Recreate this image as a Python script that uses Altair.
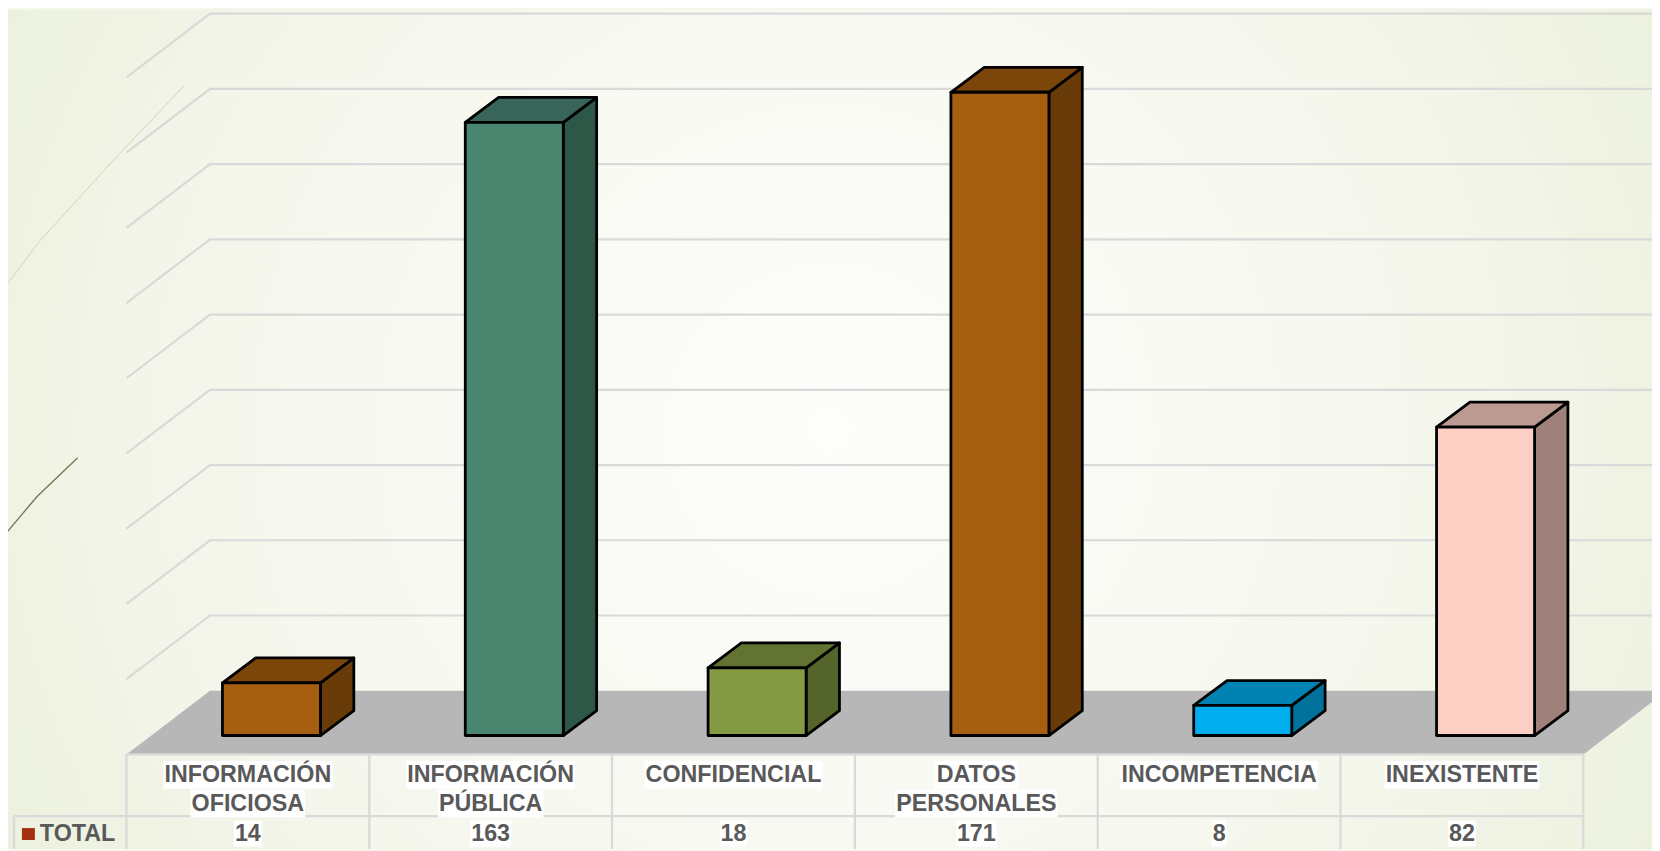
import altair as alt
import pandas as pd

CATEGORIES_LINE1 = ["INFORMACIÓN", "INFORMACIÓN", "CONFIDENCIAL", "DATOS", "INCOMPETENCIA", "INEXISTENTE"]
CATEGORIES_LINE2 = ["OFICIOSA", "PÚBLICA", "", "PERSONALES", "", ""]
VALUES = [14, 163, 18, 171, 8, 82]
FRONT = ["#a65e10", "#4a8570", "#859b43", "#a65e10", "#00aeef", "#fbcfc4"]
TOP = ["#7c4509", "#38645a", "#637432", "#7c4509", "#0083b3", "#bc9a92"]
SIDE = ["#693b08", "#2d5747", "#55642b", "#693b08", "#00729b", "#a0807a"]
TICKS = list(range(0, 181, 20))

W, H = 1652, 843
OX, OY = 8, 8
X0, SLOT = 127.0, 244.0       # page px of slot 0, px per slot
Y0, UNIT = 756.0, 3.78        # page px of value 0, px per unit
DX, DY = 84.0, 64.0           # full depth offset in px


def U(px):
    return (px - X0) / SLOT


def V(py):
    return (Y0 - py) / UNIT


x_scale = alt.Scale(domain=[U(OX), U(OX + W)], range=[0, W], nice=False, zero=False)
y_scale = alt.Scale(domain=[V(OY + H), V(OY)], range=[H, 0], nice=False, zero=False)


def proj(slot, value, depth):
    return slot + depth * DX / SLOT, value + depth * DY / UNIT


X = alt.X("x:Q", scale=x_scale, axis=None)
Xh = alt.X("x:Q", scale=x_scale, axis=None)
Y_PLAIN = alt.Y("y:Q", scale=y_scale, axis=None)
Y_AXIS = alt.Y("y:Q", scale=y_scale, title=None, axis=alt.Axis(
    values=TICKS, domain=False, ticks=False, grid=False, labelPadding=-104, labelFontSize=24,
    labelFont="Lato", labelFontWeight=300, labelColor="#595959", zindex=1, labelOverlap=False))

# background
bg = alt.Chart(pd.DataFrame({"x": [U(OX)], "x2": [U(OX + W)], "y": [V(OY + H)], "y2": [V(OY)]})).mark_rect(
    color=alt.Gradient(gradient="radial", x1=0.5, y1=0.5, r1=0.0, x2=0.5, y2=0.5, r2=0.72, stops=[
        alt.GradientStop(offset=0, color="#fdfdfb"),
        alt.GradientStop(offset=0.45, color="#f6f8ef"),
        alt.GradientStop(offset=1, color="#e6ecd3"),
    ])
).encode(x=X, x2="x2:Q", y=Y_AXIS, y2="y2:Q")

# decorative curves of the slide
c1x = [0, 40, 113, 185]
c1y = [293, 240, 160, 84]
c2x = [0, 37, 78]
c2y = [541, 497, 458]
curve = pd.concat([
    pd.DataFrame({"x": [U(p) for p in c1x], "y": [V(p) for p in c1y], "id": "a", "o": range(4)}),
    pd.DataFrame({"x": [U(p) for p in c2x], "y": [V(p) for p in c2y], "id": "b", "o": range(3)}),
])
curves = alt.Chart(curve).mark_line(clip=True).encode(
    x=X, y=Y_PLAIN, detail="id:N", order="o:Q",
    color=alt.Color("id:N", scale=alt.Scale(domain=["a", "b"], range=["#cfd3bb", "#7d7659"]), legend=None),
    strokeWidth=alt.StrokeWidth("id:N", scale=alt.Scale(domain=["a", "b"], range=[1, 1.4]), legend=None))

# gridlines
grid_rows = []
for t in TICKS:
    if t == 0:
        continue
    for i, (s, d) in enumerate([(0, 0), (0, 1), (7, 1)]):
        px, py = proj(s, t, d)
        grid_rows.append({"x": px, "y": py, "t": t, "o": i})
grid = alt.Chart(pd.DataFrame(grid_rows)).mark_line(color="#d9d9d9", strokeWidth=2.2, clip=True).encode(
    x=X, y=Y_PLAIN, detail="t:Q", order="o:Q")

# floor
fy = [proj(0, 0, d)[1] for d in (0, 1)]
floor_df = pd.DataFrame({"y": fy, "x": [proj(0, 0, d)[0] for d in (0, 1)], "x2": [proj(6, 0, d)[0] for d in (0, 1)]})
floor = alt.Chart(floor_df).mark_area(orient="horizontal", color="#b7b7b7", clip=True).encode(
    y=Y_PLAIN, x=alt.X("x:Q", scale=x_scale, axis=None), x2="x2:Q")

# table
hl = pd.DataFrame({"x": [0, U(14)], "x2": [6, 6], "y": [0, V(818)]})
table_h = alt.Chart(hl).mark_rule(color="#d9d9d9", strokeWidth=2.2).encode(x=X, x2="x2:Q", y=Y_PLAIN)
vl = pd.DataFrame({"x": list(range(7)), "y": [0] * 7, "y2": [V(OY + H)] * 7})
vl2 = pd.DataFrame({"x": [U(14)], "y": [V(818)], "y2": [V(OY + H)]})
table_v = alt.Chart(pd.concat([vl, vl2])).mark_rule(color="#d9d9d9", strokeWidth=2.2).encode(x=X, y=Y_PLAIN, y2="y2:Q")

# bars
BAR_D0 = 19.0 / DY
BAR_D1 = BAR_D0 + 25.0 / DY
BAR_L = (223.5 - X0) / SLOT
BAR_W = 98.5 / SLOT
side_rows, top_rows, front_rows = [], [], []
for i, v in enumerate(VALUES):
    left = i + BAR_L
    right = left + BAR_W
    fx0, fb = proj(left, 0, BAR_D0)
    fx1, ft = proj(right, v, BAR_D0)
    fx0 -= BAR_D0 * DX / SLOT  # front-left px was measured directly
    fx1 -= BAR_D0 * DX / SLOT
    ddx = (BAR_D1 - BAR_D0) * DX / SLOT * 33.5 / (25.0 * DX / DY)
    ddy = (BAR_D1 - BAR_D0) * DY / UNIT
    front_rows.append({"x": fx0, "x2": fx1, "y": fb, "y2": ft, "c": FRONT[i]})
    for k, dd in enumerate((0, 1)):
        side_rows.append({"x": fx1 + dd * ddx, "y": fb + dd * ddy, "y2": ft + dd * ddy, "c": SIDE[i], "b": i})
        top_rows.append({"y": ft + dd * ddy, "x": fx0 + dd * ddx, "x2": fx1 + dd * ddx, "c": TOP[i], "b": i})

BK = dict(stroke="#000000", strokeWidth=2.8, strokeJoin="round")
side = alt.Chart(pd.DataFrame(side_rows)).mark_area(**BK).encode(
    x=X, y=Y_PLAIN, y2="y2:Q", detail="b:N", color=alt.Color("c:N", scale=None))
top = alt.Chart(pd.DataFrame(top_rows)).mark_area(orient="horizontal", **BK).encode(
    y=Y_PLAIN, x=X, x2="x2:Q", detail="b:N", color=alt.Color("c:N", scale=None))
front = alt.Chart(pd.DataFrame(front_rows)).mark_rect(**BK).encode(
    x=X, x2="x2:Q", y=Y_PLAIN, y2="y2:Q", color=alt.Color("c:N", scale=None))

# text
FS = 23.4
LINE1_PY, LINE2_PY, VAL_PY = 776.5, 805.5, 835.5
CH = 0.0  # placeholder for alignment of centre


def white_boxes(rows):
    return alt.Chart(pd.DataFrame(rows)).mark_rect(color="#ffffff").encode(
        x=X, x2="x2:Q", y=Y_PLAIN, y2="y2:Q")


def text_width(s):
    W_EM = {"I": .278, "N": .722, "F": .611, "O": .778, "R": .722, "M": .833, "A": .722, "C": .722, "Ó": .778,
            "S": .667, "P": .667, "Ú": .722, "B": .722, "L": .611, "D": .722, "E": .667, "T": .611, "X": .667,
            "1": .556, "2": .556, "3": .556, "4": .556, "6": .556, "7": .556, "8": .556}
    return sum(W_EM[c] for c in s) * FS


box_rows = []
text_rows = []
for i in range(6):
    for s, py in ((CATEGORIES_LINE1[i], LINE1_PY), (CATEGORIES_LINE2[i], LINE2_PY)):
        if s:
            w = text_width(s) + 2
            box_rows.append({"x": i + .5 - w / 2 / SLOT, "x2": i + .5 + w / 2 / SLOT,
                             "y": V(py + 14), "y2": V(py - 14)})
            text_rows.append({"x": i + .5, "y": V(py), "s": s})
    s = str(VALUES[i])
    w = text_width(s) + 2
    box_rows.append({"x": i + .5 - w / 2 / SLOT, "x2": i + .5 + w / 2 / SLOT,
                     "y": V(VAL_PY + 13), "y2": V(VAL_PY - 13)})
    text_rows.append({"x": i + .5, "y": V(VAL_PY), "s": s})

boxes = white_boxes(box_rows)
texts = alt.Chart(pd.DataFrame(text_rows)).mark_text(
    font="Liberation Sans", fontWeight="bold", fontSize=FS, color="#595959", baseline="middle", align="center"
).encode(x=X, y=Y_PLAIN, text="s:N")
total_label = alt.Chart(pd.DataFrame({"x": [U(40)], "y": [V(VAL_PY)], "s": ["TOTAL"]})).mark_text(
    font="Liberation Sans", fontWeight="bold", fontSize=FS, color="#595959", baseline="middle", align="left"
).encode(x=X, y=Y_PLAIN, text="s:N")
swatch = alt.Chart(pd.DataFrame({"x": [U(22)], "x2": [U(35)], "y": [V(842)], "y2": [V(830)]})).mark_rect(
    color="#a5300f").encode(x=X, x2="x2:Q", y=Y_PLAIN, y2="y2:Q")

chart = alt.layer(bg, curves, grid, floor, table_h, table_v, side, top, front, boxes, texts, total_label, swatch).properties(
    width=W, height=H, padding=0, background="#f4f7ec"
).configure_view(stroke=None)

chart.save("out.html", embed_options={"renderer": "svg", "actions": False})
